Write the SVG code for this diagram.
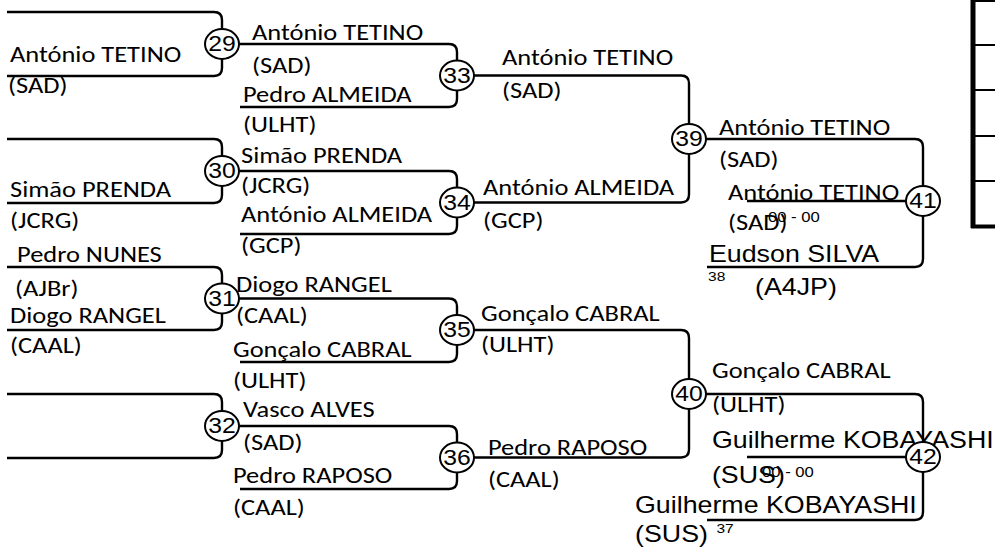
<svg xmlns="http://www.w3.org/2000/svg" width="995" height="549" viewBox="0 0 995 549">
<style>
.ln{fill:none;stroke:#000;stroke-width:2.4}
.c{fill:#fff;stroke:#000;stroke-width:2}
.n{font-family:Carlito,Lato,"Liberation Sans",sans-serif;font-size:23px;fill:#000}
.a{font-family:"Liberation Sans",Arial,sans-serif;font-size:23.3px;fill:#000}
.num{font-family:"Liberation Sans",Arial,sans-serif;font-size:21.5px;fill:#000;text-anchor:middle}
.sm{font-family:"Liberation Sans",Arial,sans-serif;font-size:14.5px;fill:#000}
.sx{font-family:"Liberation Sans",Arial,sans-serif;font-size:13.5px;fill:#000}
</style>
<rect width="995" height="549" fill="#fff"/>
<g id="connectors">
<path class="ln" d="M7,12 H214 Q222,12 222,20 V68 Q222,76 214,76 H7"/>
<path class="ln" d="M7,139 H214 Q222,139 222,147 V195 Q222,203 214,203 H7"/>
<path class="ln" d="M7,267 H214 Q222,267 222,275 V322 Q222,330 214,330 H7"/>
<path class="ln" d="M7,394 H214 Q222,394 222,402 V450 Q222,458 214,458 H7"/>
<path class="ln" d="M222,44 H449 Q457,44 457,52 V99 Q457,107 449,107 H240"/>
<path class="ln" d="M222,171 H449 Q457,171 457,179 V226 Q457,234 449,234 H240"/>
<path class="ln" d="M222,298.5 H449 Q457,298.5 457,306.5 V354 Q457,362 449,362 H240"/>
<path class="ln" d="M222,426 H449 Q457,426 457,434 V481 Q457,489 449,489 H240"/>
<path class="ln" d="M457,75.5 H681 Q689,75.5 689,83.5 V194.5 Q689,202.5 681,202.5 H457"/>
<path class="ln" d="M457,330 H681 Q689,330 689,338 V449.5 Q689,457.5 681,457.5 H457"/>
<path class="ln" d="M689,139 H915 Q923,139 923,147 V259 Q923,267 915,267 H707"/>
<path class="ln" d="M747,201 H923"/>
<path class="ln" d="M689,394 H915 Q923,394 923,402 V512 Q923,520 915,520 H707"/>
<path class="ln" d="M747,457 H923"/>
</g>
<g id="table">
<path d="M973,0 V228" stroke="#000" stroke-width="5" fill="none"/>
<path d="M971,226.5 H995" stroke="#000" stroke-width="4" fill="none"/>
<path d="M973,1 H995 M973,45 H995 M973,90 H995 M973,136 H995 M973,181 H995" stroke="#000" stroke-width="2" fill="none"/>
</g>
<g id="players" transform="scale(1.15 1)">
<g id="r1">
<text class="n" x="8.7" y="62">António TETINO</text>
<text class="n" x="7" y="93">(SAD)</text>
<text class="n" x="8.7" y="197">Simão PRENDA</text>
<text class="n" x="8.7" y="228">(JCRG)</text>
<text class="n" x="14.8" y="262">Pedro NUNES</text>
<text class="n" x="13" y="296">(AJBr)</text>
<text class="n" x="8.7" y="323">Diogo RANGEL</text>
<text class="n" x="8.7" y="353">(CAAL)</text>
</g>
<g id="r2">
<text class="n" x="219.1" y="40">António TETINO</text>
<text class="n" x="219.1" y="73">(SAD)</text>
<text class="n" x="211.3" y="102">Pedro ALMEIDA</text>
<text class="n" x="211.3" y="132">(ULHT)</text>
<text class="n" x="209.6" y="163">Simão PRENDA</text>
<text class="n" x="209.6" y="193">(JCRG)</text>
<text class="n" x="209.6" y="222">António ALMEIDA</text>
<text class="n" x="209.6" y="253">(GCP)</text>
<text class="n" x="205.2" y="292">Diogo RANGEL</text>
<text class="n" x="205.2" y="323">(CAAL)</text>
<text class="n" x="202.6" y="357">Gonçalo CABRAL</text>
<text class="n" x="202.6" y="388">(ULHT)</text>
<text class="n" x="211.3" y="417">Vasco ALVES</text>
<text class="n" x="211.3" y="450">(SAD)</text>
<text class="n" x="202.6" y="483">Pedro RAPOSO</text>
<text class="n" x="202.6" y="515">(CAAL)</text>
</g>
<g id="r3">
<text class="n" x="436.5" y="65">António TETINO</text>
<text class="n" x="436.5" y="98">(SAD)</text>
<text class="n" x="420" y="195">António ALMEIDA</text>
<text class="n" x="420" y="228">(GCP)</text>
<text class="n" x="418.3" y="321">Gonçalo CABRAL</text>
<text class="n" x="418.3" y="352">(ULHT)</text>
<text class="n" x="424.3" y="455">Pedro RAPOSO</text>
<text class="n" x="424.3" y="487">(CAAL)</text>
</g>
<g id="r4">
<text class="n" x="625.2" y="135">António TETINO</text>
<text class="n" x="625.2" y="167">(SAD)</text>
<text class="n" x="633" y="200">António TETINO</text>
<text class="n" x="633" y="230">(SAD)</text>
<text class="sm" x="667.8" y="222">00 - 00</text>
<text class="a" x="616.5" y="262">Eudson SILVA</text>
<text class="sx" x="615.7" y="281">38</text>
<text class="a" x="656.5" y="295">(A4JP)</text>
<text class="n" x="619.1" y="378">Gonçalo CABRAL</text>
<text class="n" x="619.1" y="412">(ULHT)</text>
<text class="a" x="619.1" y="448">Guilherme KOBAYASHI</text>
<text class="a" x="619.1" y="483">(SUS)</text>
<text class="sm" x="662.6" y="477">00 - 00</text>
<text class="a" x="552.2" y="513">Guilherme KOBAYASHI</text>
<text class="a" x="552.2" y="542">(SUS)</text>
<text class="sx" x="623" y="533">37</text>
</g>
</g>
<g id="m29"><ellipse class="c" cx="222" cy="44" rx="17" ry="15"/><text class="num" transform="scale(1.15 1)" x="193" y="51.5">29</text></g>
<g id="m30"><ellipse class="c" cx="222" cy="171" rx="17" ry="15"/><text class="num" transform="scale(1.15 1)" x="193" y="178.5">30</text></g>
<g id="m31"><ellipse class="c" cx="222" cy="298.5" rx="17" ry="15"/><text class="num" transform="scale(1.15 1)" x="193" y="306">31</text></g>
<g id="m32"><ellipse class="c" cx="222" cy="426" rx="17" ry="15"/><text class="num" transform="scale(1.15 1)" x="193" y="433.5">32</text></g>
<g id="m33"><ellipse class="c" cx="457" cy="75.5" rx="17" ry="15"/><text class="num" transform="scale(1.15 1)" x="397.4" y="83">33</text></g>
<g id="m34"><ellipse class="c" cx="457" cy="202.5" rx="17" ry="15"/><text class="num" transform="scale(1.15 1)" x="397.4" y="210">34</text></g>
<g id="m35"><ellipse class="c" cx="457" cy="330" rx="17" ry="15"/><text class="num" transform="scale(1.15 1)" x="397.4" y="337.5">35</text></g>
<g id="m36"><ellipse class="c" cx="457" cy="457.5" rx="17" ry="15"/><text class="num" transform="scale(1.15 1)" x="397.4" y="465">36</text></g>
<g id="m39"><ellipse class="c" cx="689" cy="139" rx="17" ry="15"/><text class="num" transform="scale(1.15 1)" x="599.1" y="146.5">39</text></g>
<g id="m40"><ellipse class="c" cx="689" cy="394" rx="17" ry="15"/><text class="num" transform="scale(1.15 1)" x="599.1" y="401.5">40</text></g>
<g id="m41"><ellipse class="c" cx="923" cy="201" rx="17" ry="15"/><text class="num" transform="scale(1.15 1)" x="802.6" y="208.5">41</text></g>
<g id="m42"><ellipse class="c" cx="923" cy="457" rx="17" ry="15"/><text class="num" transform="scale(1.15 1)" x="802.6" y="464.5">42</text></g>
</svg>
